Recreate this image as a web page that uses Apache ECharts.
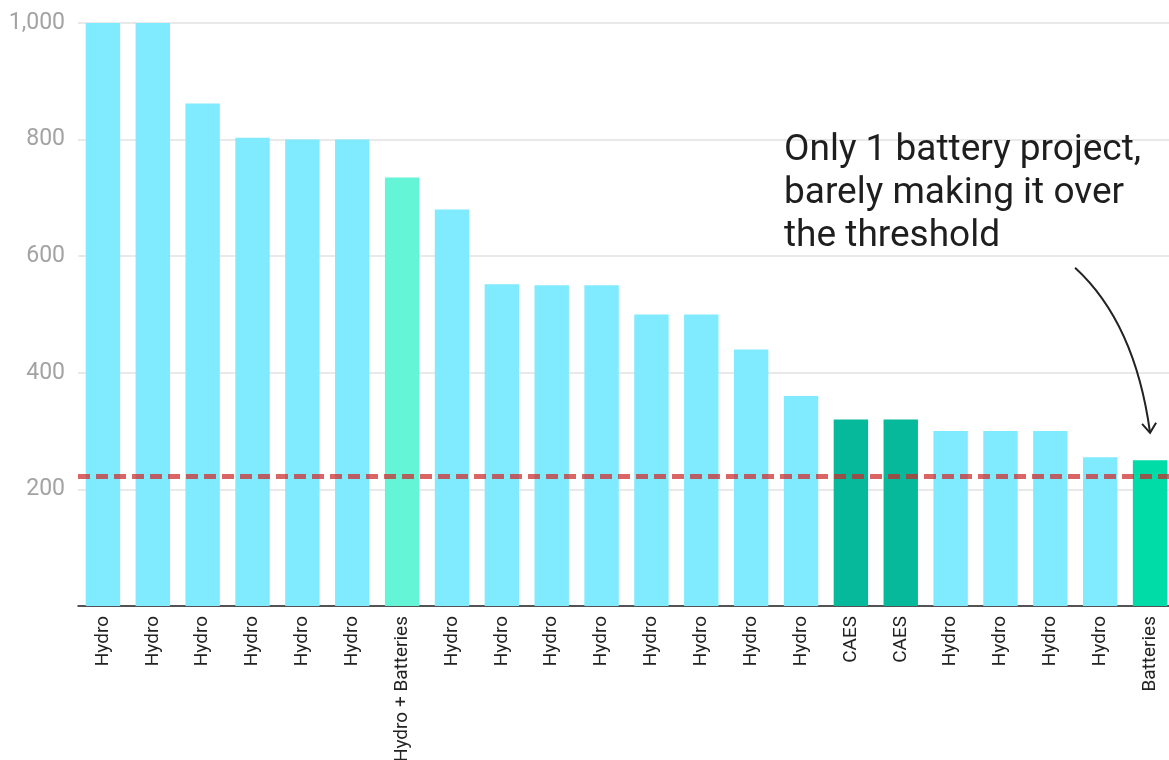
<!DOCTYPE html>
<html>
<head>
<meta charset="utf-8">
<script src="https://cdn.jsdelivr.net/npm/echarts@6/dist/echarts.min.js"></script>
<style>
  html, body { margin: 0; padding: 0; background: #fff; }
  #chart { width: 1169px; height: 760px; }
</style>
</head>
<body>
<div id="chart"></div>
<script>
// Storage projects by capacity, largest first
const categories = ['Hydro', 'Hydro', 'Hydro', 'Hydro', 'Hydro', 'Hydro', 'Hydro + Batteries',
  'Hydro', 'Hydro', 'Hydro', 'Hydro', 'Hydro', 'Hydro', 'Hydro', 'Hydro',
  'CAES', 'CAES', 'Hydro', 'Hydro', 'Hydro', 'Hydro', 'Batteries'];
const capacity = [1000, 1000, 862, 803, 800, 800, 735, 680, 552, 550, 550, 500, 500, 440, 360,
  320, 320, 300, 300, 300, 255, 250];
const threshold = 223;
const yTicks = [0, 200, 400, 600, 800, 1000];
const annotation = ['Only 1 battery project,', 'barely making it over', 'the threshold'];

const typeColors = {
  'Hydro': '#80eaff',
  'Hydro + Batteries': '#64f5d7',
  'CAES': '#06b99a',
  'Batteries': '#00dca8'
};

const FONT = 'Roboto';
const chart = echarts.init(document.getElementById('chart'));

const option = {
  animation: false,
  textStyle: { fontFamily: FONT },
  // plot runs slightly past the right edge of the canvas
  grid: { left: 78, width: 1097, top: 23, bottom: 154, outerBoundsMode: 'none', containLabel: false },
  xAxis: {
    type: 'category',
    data: categories,
    axisLine: { lineStyle: { color: '#222', width: 1.5 } },
    axisTick: { show: false },
    axisLabel: {
      rotate: 90,
      interval: 0,
      margin: 10,
      color: '#222',
      fontSize: 19,
      fontFamily: FONT
    }
  },
  yAxis: {
    type: 'value',
    min: yTicks[0],
    max: yTicks[yTicks.length - 1],
    interval: 200,
    axisLine: { show: false },
    axisTick: { show: false },
    splitLine: { lineStyle: { color: '#e2e2e2', width: 1.5 } },
    axisLabel: {
      margin: 13,
      color: '#a3a3a3',
      fontSize: 23,
      fontFamily: FONT,
      formatter: v => (v === 0 ? '' : v.toLocaleString('en-US'))
    }
  },
  series: [{
    type: 'bar',
    barWidth: '69%',
    data: capacity.map((v, i) => ({
      value: v,
      itemStyle: { color: typeColors[categories[i]] }
    })),
    markLine: {
      silent: true,
      symbol: 'none',
      label: { show: false },
      lineStyle: { color: 'rgba(205, 40, 40, 0.72)', width: 5, type: [12, 6] },
      data: [{ yAxis: threshold }]
    }
  }]
};

chart.setOption(option);

// Annotation: text block plus a curved arrow pointing at the battery bar
const lastIdx = categories.length - 1;
const tip = chart.convertToPixel({ xAxisIndex: 0, yAxisIndex: 0 }, [lastIdx, 297]);
const start = [tip[0] - 75, tip[1] - 165];

chart.setOption({
  graphic: [
    {
      type: 'text',
      left: 784,
      top: 129,
      style: {
        text: annotation.join('\n'),
        font: '37px Roboto',
        fill: '#1e1e1e',
        lineHeight: 43
      }
    },
    {
      type: 'bezierCurve',
      shape: {
        x1: start[0], y1: start[1],
        cpx1: start[0] + 60, cpy1: start[1] + 55,
        x2: tip[0], y2: tip[1]
      },
      style: { stroke: '#222', lineWidth: 2, fill: null }
    },
    {
      type: 'polyline',
      shape: {
        points: [[tip[0] - 8, tip[1] - 9], [tip[0], tip[1]], [tip[0] + 6, tip[1] - 10]]
      },
      style: { stroke: '#222', lineWidth: 2, fill: null }
    }
  ]
});
</script>
</body>
</html>
